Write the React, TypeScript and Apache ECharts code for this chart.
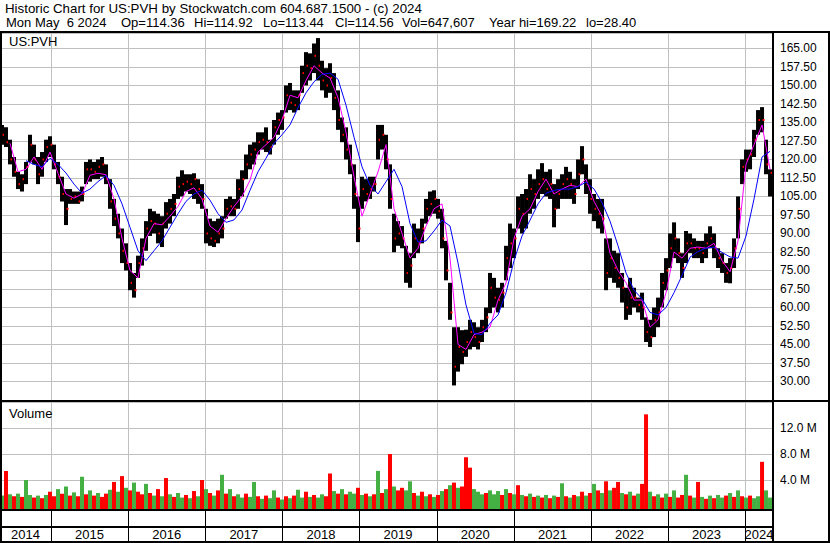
import React, { useEffect, useRef } from "react";
import * as echarts from "echarts";

// ---- axis frame (days counted from START_DATE) ----
const START_DATE = "2014-05-05";
const END_DAY = 3660;
const FIRST_BAR_DAY = 9.5;
const BAR_STEP_DAYS = 18.94;
const MA_STEP_DAYS = 37.88;

const yearLabels = ["2014", "2015", "2016", "2017", "2018", "2019", "2020", "2021", "2022", "2023", "2024"];
const yearStarts = ["2015-01-01", "2016-01-01", "2017-01-01", "2018-01-01", "2019-01-01", "2020-01-01", "2021-01-01", "2022-01-01", "2023-01-01", "2024-01-01"];

// ---- price bars (one bar per ~2.7 weeks) ----
const priceLow = [126,125,118,113,108,107,110,119,118,110,113,119,121,116,110,103,93.4,102,102,102,103,110,111,112,112,113,110,100,93,88,78,75,67,64,72,77,83,89,90,86,84.5,92,94,97,104,105,107,106,104,102,100,86,85,84.5,86,88,96,97,97,100,105,112,116,118,122,124,123,122,126,130,132,139,140,139,140,147,150,152,155,152,148,145,147,140,132,127,120,114,100,86.5,100,103,104,107,120,124,116,100,82.4,85,84,70,68,80,82,86,94,97,98,96,84,71,55,28.4,34,37,40,43,44,43,46,50,57.7,60,58,60,71,76,80,92,90,92,98,100,104,106,105,104,92.5,100,104,104,104,102,108,114,106,98,95,92,90,67,72,70,68,62,55,57,60,58,55,46,44,48,52,60,67,76,80,78,72,78,82,80,80,78,80,84,80,76,74,70,69.8,76,88,110,115,116,121,130,131,114,105];
const priceHigh = [134,133,128,121,115,114,119,130,126,121,123,128,129.4,126,119,113,108,108,107,107,109,119,120,119,120,121,118,112,104,98,92,86,78,74,81,88,95,100,99,98,97,102.7,104,106,113,115.6,114,114,114.4,112,110,100,96,95,96,97,104,105,104,112,115.6,122,126,127,131,131,133,128,136,139,140,150,151,148,148,158,163.5,163,167,169.2,160,157,159,155,148,137,133,126,118,105,113,112,113,113,134,134,130,118,98,95,93,85,82,94,92,96,104,107,107.5,104,100,87,70,52,52,50.8,51,55,54,52,55,60,74,72,68,70,85,94,92,105,106,108,114,112,116,118.5,115,116,110,112,114,117,115,112,120,125.4,118,112,106,104,104,88,88,83,82,74,68,72,68,64,66,56,55,60,64,74,80,90,94.5,88,82,91,90,88,87,87,90,92.9,90,84,82,78,80,88,105,120,124,124,132,140,141.2,128,116];
const priceClose = [130,127,120,115,110,112,117,126,120,114,120,125,126,118,113,106,100,104,105,103,106,116,116,115,117,118,112,103,96,90,83,78,70,67,78,84,92,95,94,90,94,98,100,102,109,110,111,110,112,108,104,90,88,87,90,92,100,101,100,108,112,118,122,124,127,128,127,125,133,136,137,146,143,142,146,155,158,157,162,158,152,150,153,145,136,130,124,118,106,92,108,106,108,110,128,130,120,104,88,90,88,74,77,88,86,92,100,102,104,99,88,75,58,36,44,42,46,50,48,46,52,56,68,64,63,66,80,86,88,100,98,104,108,106,110,112,108,110,100,106,110,112,110,106,114,120,110,104,100,98,96,74,80,76,72,68,60,64,64,61,60,50,48,55,58,70,75,84,88,82,76,86,86,84,84,82,86,88,84,80,78,74,76,84,100,117,120,122,128,136,136,118,114.56];

// ---- volume (millions) and direction (g = up, r = down) ----
const volumeM = [1.6,5.4,1.8,1.5,1.9,1.4,4.0,1.7,1.3,1.6,1.2,1.7,2.2,1.5,2.6,1.9,3.0,1.6,2.1,1.5,4.5,1.8,2.4,1.6,2.0,1.4,1.9,2.5,3.7,2.2,4.6,2.8,2.4,3.6,2.2,1.8,3.4,2.0,1.6,2.6,1.5,4.3,1.8,1.4,2.0,1.3,1.7,1.2,2.3,1.5,4.0,2.6,2.0,1.6,2.4,4.8,1.9,2.6,1.5,1.8,1.3,1.9,1.4,3.7,1.5,1.1,1.6,1.2,2.4,1.3,1.0,1.5,1.2,1.6,2.5,1.3,2.2,1.4,1.7,1.3,1.8,1.5,5.0,2.3,1.9,2.6,1.8,2.2,1.9,2.8,1.7,1.9,1.5,1.8,5.4,2.0,2.6,8.0,3.0,2.4,2.8,2.4,3.8,2.0,1.6,2.2,1.5,1.8,1.4,1.7,2.3,2.6,3.2,3.6,2.8,3.0,7.5,5.9,2.6,2.2,1.8,2.0,2.4,1.8,2.3,1.7,2.6,2.0,1.8,3.2,1.7,1.5,1.9,1.4,1.6,1.3,1.7,1.2,1.6,1.4,3.5,1.5,1.3,1.7,1.5,2.2,1.6,2.0,3.4,2.4,2.0,3.8,2.4,2.8,3.7,2.0,1.8,2.2,1.6,1.9,3.4,14.1,2.2,1.5,1.8,1.3,1.9,1.4,2.4,1.3,1.7,4.8,1.6,1.3,3.7,1.4,1.1,1.6,1.2,1.7,1.3,1.6,2.0,1.4,2.4,1.5,1.3,1.6,1.2,1.5,6.8,2.4,1.3];
const volumeDir = "grgrgrggrg" + "rgrrgrgrgr" + "grgrgrrgrg" + "rgrgrrgrgr" + "grgrggrgrg" + "rgrgrgrgrg" + "grggrgrggr" + "grgrggrgrg" + "grrgrgrggr" + "grgrgrgrgr" + "rggrgrgrgr" + "grgrgrrrgg" + "grgggrgrgr" + "grgrgrgrgr" + "grgrgrgrgr" + "grgrrgrgrg" + "rrgrgrgrgr" + "rgrgrgrgrg" + "grgrgrgrgg" + "rgg";

// ---- moving averages (one point per ~5.4 weeks) ----
const maShort = [null,126.6,115,116,121,116,123,114.4,106,104.3,106,113.6,114.4,113.8,104,88,75,72,88,94,93.5,97,101,107,108.5,104,93,90.5,96,101,105,111.6,123,126,129,136,146,145,152,158,155,153,145,131,113,97,106,115,126,100,90,80,84,93,100,102,80,45,43,49,50,52,63,70,88,97,100,107,112,106,108,109.5,109,112,103,97,82,75,70,63,63,52,55,66,82.5,80,84,84.5,84,86,79,74.5,87,118,126,134,116];
const maLong = [null,null,null,119.5,118,117,120.5,118,114.5,110,106.3,108,111,113.5,109.5,102,92.5,83,79,83,87,92.5,98,103,106,107.5,103.5,98,94.5,95.5,99.5,107.5,115,120.5,126.5,130,134,141,147,151.5,154.5,155,152.5,142,129,117,109.5,106,111,116,109,94,86.5,87,91,95.4,93,78,61,49.5,49,53.6,57,66,79,89,95.4,102,106.3,107.5,108,108,109,110.8,108,102.5,95,85,74,67,63.5,58,57,60,66,73,80.4,82.7,84,84.5,82.3,80.5,80,89,104,121,123.3];

const FONT = '"Liberation Sans", Arial, sans-serif';
const GRID_GRAY = "#c0c0c0";
const HEAD_FONT = "13px " + FONT;

function dayOf(s: string) {
  return (Date.parse(s) - Date.parse(START_DATE)) / 86400000;
}

export default function App() {
  const ref = useRef<HTMLDivElement>(null);

  useEffect(() => {
    document.body.style.margin = "0";
    if (!ref.current) return;
    const chart = echarts.init(ref.current, null, { renderer: "svg" });

    const yearDays = yearStarts.map(dayOf);
    const bars = priceLow.map((lo, i) => [FIRST_BAR_DAY + i * BAR_STEP_DAYS, lo, priceHigh[i], priceClose[i]]);
    const vols = volumeM.map((v, i) => [FIRST_BAR_DAY + i * BAR_STEP_DAYS, v, volumeDir[i] === "g" ? 1 : 0]);
    const maS = maShort.map((v, j) => (v == null ? null : [FIRST_BAR_DAY + j * MA_STEP_DAYS, v])).filter(Boolean);
    const maL = maLong.map((v, j) => (v == null ? null : [FIRST_BAR_DAY + j * MA_STEP_DAYS, v])).filter(Boolean);
    const segBounds = [0, ...yearDays, END_DAY];
    const segments = yearLabels.map((_, i) => [segBounds[i], segBounds[i + 1], i]);

    const vLineRender = (extra: number) => (params: any, api: any) => {
      const cs = params.coordSys;
      const x = Math.round(api.coord([api.value(0), 0])[0]) + 0.5;
      return {
        type: "line",
        shape: { x1: x, y1: cs.y, x2: x, y2: cs.y + cs.height + extra },
        style: { stroke: GRID_GRAY, lineWidth: 1 },
      };
    };

    const xAxisBase = { type: "value", min: 0, max: END_DAY, show: false };
    const headText = (text: string, x: number, y: number) => ({
      type: "text",
      x,
      y,
      style: { text, font: HEAD_FONT, fill: "#000", verticalAlign: "middle" },
    });

    const option: any = {
      animation: false,
      backgroundColor: "#ffffff",
      grid: [
        { left: 0, top: 33, width: 773, height: 367, containLabel: false, outerBoundsMode: "none" },
        { left: 0, top: 402, width: 773, height: 104, containLabel: false, outerBoundsMode: "none" },
        { left: 0, top: 511, width: 773, height: 30, containLabel: false, outerBoundsMode: "none" },
      ],
      xAxis: [
        { ...xAxisBase, gridIndex: 0 },
        { ...xAxisBase, gridIndex: 1 },
        { ...xAxisBase, gridIndex: 2 },
      ],
      yAxis: [
        {
          gridIndex: 0,
          type: "value",
          position: "right",
          min: 22.5,
          max: 171.25,
          interval: 7.5,
          axisLine: { show: false },
          axisTick: { show: false },
          splitLine: { show: true, lineStyle: { color: GRID_GRAY, width: 1 } },
          axisLabel: {
            show: true,
            margin: 7,
            color: "#000",
            fontSize: 12,
            fontFamily: FONT,
            showMinLabel: false,
            showMaxLabel: false,
            formatter: (v: number) => v.toFixed(2),
          },
        },
        {
          gridIndex: 1,
          type: "value",
          position: "right",
          min: 0,
          max: 16,
          interval: 4,
          axisLine: { show: false },
          axisTick: { show: false },
          splitLine: { show: true, lineStyle: { color: GRID_GRAY, width: 1 } },
          axisLabel: {
            show: true,
            margin: 7,
            color: "#000",
            fontSize: 12,
            fontFamily: FONT,
            formatter: (v: number) => (v > 0 && v < 15 ? v.toFixed(1) + " M" : ""),
          },
        },
        { gridIndex: 2, type: "value", min: 0, max: 1, show: false },
      ],
      series: [
        {
          type: "custom",
          name: "priceYearLines",
          xAxisIndex: 0,
          yAxisIndex: 0,
          z: 1,
          silent: true,
          data: yearDays.map((d) => [d]),
          encode: { x: 0 },
          renderItem: vLineRender(0),
        },
        {
          type: "custom",
          name: "volYearLines",
          xAxisIndex: 1,
          yAxisIndex: 1,
          z: 1,
          silent: true,
          data: yearDays.map((d) => [d]),
          encode: { x: 0 },
          renderItem: vLineRender(3),
        },
        {
          type: "custom",
          name: "price",
          xAxisIndex: 0,
          yAxisIndex: 0,
          z: 3,
          data: bars,
          encode: { x: 0, y: [1, 2] },
          renderItem: (params: any, api: any) => {
            const d = api.value(0);
            const pHi = api.coord([d, api.value(2)]);
            const pLo = api.coord([d, api.value(1)]);
            const pC = api.coord([d, api.value(3)]);
            return {
              type: "group",
              children: [
                {
                  type: "rect",
                  shape: { x: pHi[0] - 2, y: pHi[1], width: 4, height: Math.max(1, pLo[1] - pHi[1]) },
                  style: { fill: "#000000" },
                },
                {
                  type: "rect",
                  shape: { x: pC[0] + 0.5, y: pC[1] - 1, width: 2, height: 2 },
                  style: { fill: "#ff0000" },
                },
              ],
            };
          },
        },
        {
          type: "line",
          name: "MA short",
          xAxisIndex: 0,
          yAxisIndex: 0,
          z: 4,
          data: maS,
          showSymbol: false,
          symbol: "none",
          lineStyle: { color: "#ff00ff", width: 1 },
        },
        {
          type: "line",
          name: "MA long",
          xAxisIndex: 0,
          yAxisIndex: 0,
          z: 4,
          data: maL,
          showSymbol: false,
          symbol: "none",
          lineStyle: { color: "#0000ff", width: 1 },
        },
        {
          type: "custom",
          name: "volume",
          xAxisIndex: 1,
          yAxisIndex: 1,
          z: 3,
          data: vols,
          encode: { x: 0, y: 1 },
          renderItem: (params: any, api: any) => {
            const cs = params.coordSys;
            const p = api.coord([api.value(0), api.value(1)]);
            const bottom = cs.y + cs.height + 3;
            return {
              type: "rect",
              shape: { x: p[0] - 2, y: p[1], width: 4, height: bottom - p[1] },
              style: { fill: api.value(2) === 1 ? "#44b044" : "#ff0000" },
            };
          },
        },
        {
          type: "custom",
          name: "years",
          xAxisIndex: 2,
          yAxisIndex: 2,
          z: 5,
          silent: true,
          data: segments,
          encode: { x: [0, 1] },
          renderItem: (params: any, api: any) => {
            const cs = params.coordSys;
            const s = api.value(0);
            const e = api.value(1);
            const x0 = api.coord([s, 0])[0];
            const x1 = api.coord([e, 0])[0];
            const children: any[] = [
              {
                type: "text",
                x: (x0 + x1) / 2,
                y: cs.y + cs.height - 7,
                style: {
                  text: yearLabels[api.value(2)],
                  fill: "#000",
                  font: "13px " + FONT,
                  align: "center",
                  verticalAlign: "middle",
                },
              },
            ];
            if (s > 0) {
              const xl = Math.round(x0) + 0.5;
              children.push({
                type: "line",
                shape: { x1: xl, y1: cs.y - 1, x2: xl, y2: cs.y + cs.height },
                style: { stroke: "#000", lineWidth: 1 },
              });
            }
            return { type: "group", children };
          },
        },
      ],
      graphic: [
        { type: "text", x: 5, y: 8.5, style: { text: "Historic Chart for US:PVH by Stockwatch.com 604.687.1500 - (c) 2024", font: "13.3px " + FONT, fill: "#000", verticalAlign: "middle" } },
        headText("Mon May  6 2024", 6, 22.5),
        headText("Op=114.36", 121, 22.5),
        headText("Hi=114.92", 194, 22.5),
        headText("Lo=113.44", 263, 22.5),
        headText("Cl=114.56", 335, 22.5),
        headText("Vol=647,607", 402, 22.5),
        headText("Year hi=169.22", 489, 22.5),
        headText("lo=28.40", 586, 22.5),
        { type: "text", x: 9, y: 41.5, z: 10, style: { text: "US:PVH", font: "13px " + FONT, fill: "#000", verticalAlign: "middle" } },
        { type: "text", x: 9, y: 413, z: 10, style: { text: "Volume", font: "13px " + FONT, fill: "#000", verticalAlign: "middle" } },
        { type: "rect", z: 20, shape: { x: 0, y: 31, width: 830, height: 2 }, style: { fill: "#000" } },
        { type: "rect", z: 20, shape: { x: 0, y: 31, width: 2, height: 512 }, style: { fill: "#000" } },
        { type: "rect", z: 20, shape: { x: 828, y: 31, width: 2, height: 512 }, style: { fill: "#000" } },
        { type: "rect", z: 20, shape: { x: 772, y: 31, width: 2, height: 512 }, style: { fill: "#000" } },
        { type: "rect", z: 20, shape: { x: 0, y: 400, width: 830, height: 2 }, style: { fill: "#000" } },
        { type: "rect", z: 20, shape: { x: 0, y: 509, width: 773, height: 2 }, style: { fill: "#000" } },
        { type: "rect", z: 20, shape: { x: 0, y: 526, width: 773, height: 2 }, style: { fill: "#000" } },
        { type: "rect", z: 20, shape: { x: 0, y: 541, width: 830, height: 2 }, style: { fill: "#000" } },
      ],
    };

    chart.setOption(option);
    return () => chart.dispose();
  }, []);

  return <div ref={ref} style={{ position: "absolute", left: 0, top: 0, width: 830, height: 543 }} />;
}
